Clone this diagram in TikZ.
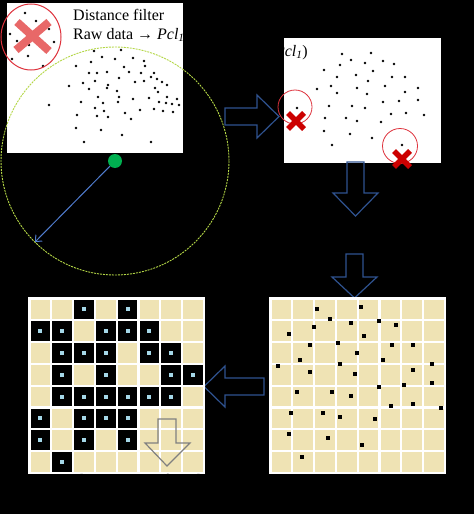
\documentclass[tikz,border=0pt]{standalone}
\usepackage{fontspec}
\setmainfont{Liberation Serif}
\usetikzlibrary{arrows.meta}

\definecolor{arrowblue}{RGB}{47,82,143}
\definecolor{radblue}{RGB}{80,124,206}
\definecolor{ringgreen}{RGB}{180,215,70}
\definecolor{dotgreen}{RGB}{0,176,80}
\definecolor{cellbeige}{RGB}{239,227,180}
\definecolor{cellcyan}{RGB}{165,215,232}
\definecolor{lightred}{RGB}{232,104,104}
\definecolor{darkred}{RGB}{204,0,0}
\definecolor{ringred}{RGB}{222,50,60}

\tikzset{
  panel/.style={fill=white,inner sep=0pt,outer sep=0pt},
  blockarrow/.style={draw=arrowblue,line width=1.2pt,line join=miter},
  caption/.style={font=\fontsize{16}{19}\selectfont,inner sep=0pt},
}

\begin{document}
\begin{tikzpicture}[x=1pt,y=-1pt]
\useasboundingbox (0,0) rectangle (474,514);
\fill[black] (0,0) rectangle (474,514);

% raw data
\node[panel,minimum width=176pt,minimum height=150pt] (raw) at (95,78) {};
\foreach \p in {(25,13),(36,21),(19,22),(48,23),(10,34),(32,34),(49,29),(17,41),(54,42),(29,45),(45,44),(28,56),(12,59),(43,66),
  (94,51),(121,50),(102,57),(133,58),(91,62),(115,59),(144,61),(76,66),(124,67),(145,66),(89,73),(97,73),(107,72),(129,72),
  (141,73),(154,73),(119,78),(151,77),(83,83),(95,81),(108,85),(135,82),(144,81),(157,79),(162,82),(167,85),(69,86),(89,89),
  (107,88),(117,91),(155,88),(158,92),(98,97),(119,97),(133,99),(149,98),(167,97),(177,99),(49,105),(81,102),(103,103),
  (118,102),(159,102),(166,103),(172,104),(179,105),(95,108),(104,111),(140,110),(154,109),(163,111),(173,112),(77,115),
  (97,116),(108,117),(125,113),(131,119),(76,128),(101,130),(122,135),(84,142),(151,142)}
  \fill \p circle (1.3);
\draw[ringred,line width=1pt] (31,37) ellipse [x radius=30, y radius=33];
\draw[lightred,line width=8pt] (17,22) -- (49,51) (49,22) -- (16,50);
\node[caption,anchor=base west] (t1) at (73,20) {Distance filter};
\node[caption,anchor=base west] (t2) at (73,39) {Raw data → \textit{Pcl\textsubscript{1}}};

% range
\node[circle,fill=dotgreen,minimum size=14pt,inner sep=0pt] (c) at (115,161) {};
\coordinate (r) at (35,242);
\draw[ringgreen,line width=0.9pt,dash pattern=on 2pt off 1pt] (c.center) circle (114);
\draw[radblue,line width=1pt,-{Straight Barb[length=5pt,width=9pt]}] (c) -- (r);

% filtered cloud
\draw[blockarrow] (225,108) -- (257,108) -- (257,95) -- (279,116.5) -- (257,138) -- (257,125) -- (225,125) -- cycle;
\node[panel,minimum width=157pt,minimum height=125pt] (pcl) at (362.5,100.5) {};
\node[caption,anchor=base east,text=black] (t3) at (308,56) {(\textit{Pcl\textsubscript{1}})};
\foreach \p in {(342,54),(371,53),(351,60),(340,65),(365,63),(383,61),(394,64),(324,70),(373,71),(337,77),(356,75),(368,81),
  (392,77),(405,77),(317,89),(331,86),(357,88),(337,93),(367,94),(385,86),(405,92),(418,88),(418,100),(399,101),(383,102),
  (329,106),(352,106),(365,108),(297,108),(406,113),(391,114),(424,115),(325,118),(346,118),(357,121),(381,122),(324,131),
  (350,134),(372,138),(332,145),(402,145)}
  \fill \p circle (1.3);
\draw[ringred,line width=0.8pt] (295,107) circle (17) (400,146) circle (17.5);
\draw[darkred,line width=5.5pt] (288,113) -- (304,129) (304,113) -- (288,129);
\draw[darkred,line width=5.5pt] (394,151) -- (410,167) (410,151) -- (394,167);

\draw[blockarrow] (347,162) -- (347,193) -- (333,193) -- (355.5,216) -- (378,193) -- (364,193) -- (364,162) -- cycle;
\draw[blockarrow] (346,254) -- (346,277) -- (332,277) -- (354.5,298) -- (377,277) -- (363,277) -- (363,254) -- cycle;

% occupancy grid
\node[panel,minimum size=177pt] (gridR) at (357.5,385.5) {};
\foreach \i in {0,...,7}
  \foreach \j in {0,...,7}
    \fill[cellbeige] (271.5+\i*21.8,299.5+\j*21.8) rectangle ++(19.6,19.6);
\foreach \p in {(317,309),(361,307),(330,319),(351,323),(379,321),(396,325),(314,327),(289,334),(364,336),(310,345),
  (338,343),(392,345),(413,345),(357,353),(300,360),(340,364),(383,360),(278,366),(432,364),(310,372),(355,374),(413,370),
  (432,383),(404,385),(379,387),(297,392),(332,392),(351,396),(391,406),(413,404),(441,408),(291,413),(323,413),(340,417),
  (375,419),(289,434),(328,438),(362,445),(302,457)}
  \fill \p +(-2.2,-2.2) rectangle +(2.2,2.2);

\draw[blockarrow] (264,378) -- (225,378) -- (225,366) -- (204,386.5) -- (225,407) -- (225,395) -- (264,395) -- cycle;

% polygon cells
\node[panel,minimum size=177pt] (gridL) at (116.5,385.5) {};
\foreach \i in {0,...,7}
  \foreach \j in {0,...,7}
    \fill[cellbeige] (30.5+\i*21.8,299.5+\j*21.8) rectangle ++(19.6,19.6);
\foreach \i/\j in {2/0,4/0,0/1,1/1,3/1,4/1,5/1,1/2,2/2,3/2,5/2,6/2,1/3,3/3,6/3,7/3,1/4,2/4,3/4,4/4,5/4,6/4,
  0/5,2/5,3/5,4/5,0/6,2/6,4/6,1/7} {
  \fill[black] (30.5+\i*21.8,299.5+\j*21.8) rectangle ++(19.6,19.6);
  \fill[cellcyan] (30.5+\i*21.8+7.8,299.5+\j*21.8+7.8) rectangle ++(4,4);
}
\draw[gray,line width=1.2pt,line join=miter] (158,419) -- (158,443) -- (145,443) -- (167,466) -- (190,443) -- (176,443) -- (176,419) -- cycle;
\node[caption,anchor=base,text=black] (t4) at (132,485.5) {Polygon center found};

\end{tikzpicture}
\end{document}
